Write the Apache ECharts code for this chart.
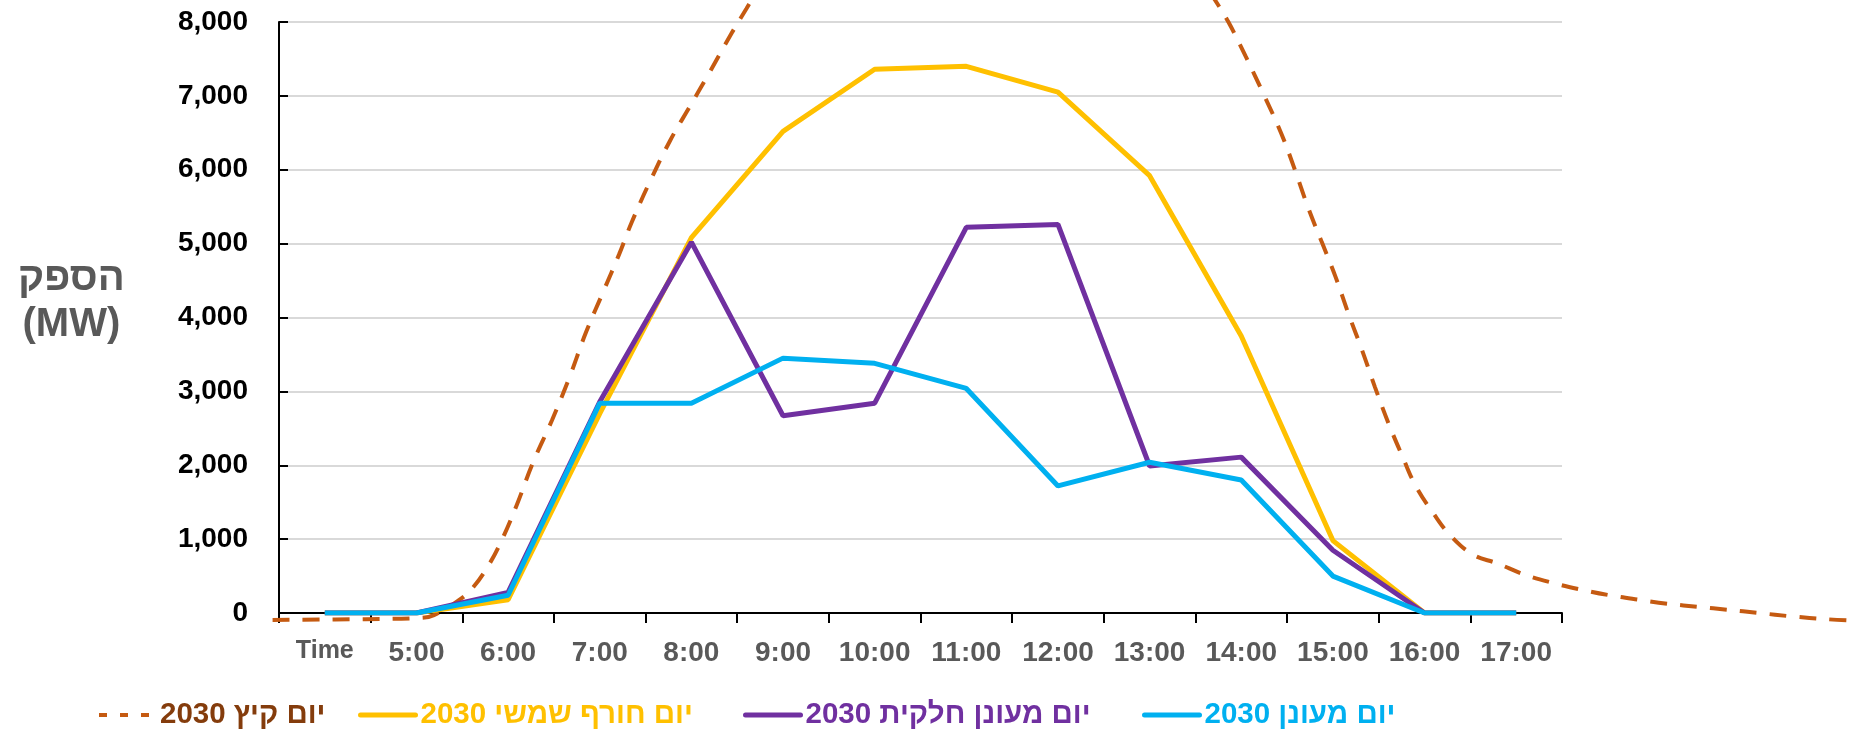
<!DOCTYPE html>
<html>
<head>
<meta charset="utf-8">
<script src="https://cdn.jsdelivr.net/npm/echarts@6/dist/echarts.min.js"></script>
<style>
  html, body { margin: 0; padding: 0; background: #ffffff; }
  #chart { width: 1855px; height: 733px; }
</style>
</head>
<body>
<div id="chart"></div>
<script>
// Hourly category labels along the bottom axis
const categories = ['Time', '5:00', '6:00', '7:00', '8:00', '9:00', '10:00', '11:00',
  '12:00', '13:00', '14:00', '15:00', '16:00', '17:00'];

// Output (MW) per hour for the three 2030 winter-day scenarios
const sunnyWinter   = [0, 0, 180, 2700, 5080, 6520, 7360, 7400, 7050, 5920, 3750, 980, 0, 0];
const partlyCloudy  = [0, 0, 280, 2860, 5020, 2670, 2840, 5220, 5260, 1990, 2110, 850, 0, 0];
const cloudy        = [0, 0, 240, 2840, 2840, 3450, 3380, 3040, 1720, 2040, 1800, 500, 0, 0];

// Summer-day 2030 profile: clock hour and output (MW)
const summerHours = [3.43, 4.44, 5.06, 5.19, 5.44, 5.6, 5.79, 5.94, 6.1, 6.27, 6.48, 6.67,
  6.85, 7.04, 7.21, 7.35, 7.56, 7.77, 7.98, 8.19, 8.44, 8.6, 9.0, 9.5, 10.0, 10.5, 11.0,
  11.5, 12.0, 12.5, 13.0, 13.5, 13.71, 13.86, 14.05, 14.25, 14.44, 14.59, 14.73, 14.88,
  15.03, 15.17, 15.32, 15.46, 15.61, 15.76, 15.9, 16.1, 16.29, 16.53, 16.79, 17.1, 17.41,
  17.72, 18.03, 18.34, 18.65, 19.0, 19.3, 19.65, 20.0, 20.4, 20.69];
const summerValues = [-94, -83, -66, -28, 155, 320, 652, 1011, 1480, 2033, 2613, 3193,
  3800, 4354, 4851, 5293, 5873, 6400, 6850, 7300, 7850, 8180, 9000, 9800, 10350, 10700, 10800,
  10700, 10400, 10000, 9400, 8700, 8304, 8000, 7530, 7006, 6481, 5983, 5486, 5017,
  4547, 4050, 3552, 3055, 2558, 2116, 1729, 1343, 1039, 790, 673, 516, 404,
  314, 238, 179, 126, 81, 45, 0, -45, -85, -104];

const seriesNames = ['יום קיץ 2030', 'יום חורף שמשי 2030', 'יום מעונן חלקית 2030', 'יום מעונן 2030'];
const seriesColors = ['#C55A11', '#FFC000', '#7030A0', '#00B0F0'];
const legendTextColors = ['#843C0C', '#FFC000', '#7030A0', '#00B0F0'];
const axisTitle = 'הספק\n(MW)';

const FONT = '"Liberation Sans", Arial, sans-serif';

// Plot area geometry (px) and the hour span it covers
const PLOT_LEFT = 279, PLOT_RIGHT = 293, PLOT_TOP = 22, PLOT_BOTTOM = 120;
const HOUR_MIN = 3.5, HOUR_MAX = 17.5;
const pxPerHour = (1855 - PLOT_LEFT - PLOT_RIGHT) / (HOUR_MAX - HOUR_MIN);
// The summer curve runs past the plot edges, so it gets its own wider grid
const WIDE_LEFT = 270;
const wideMin = HOUR_MIN - (PLOT_LEFT - WIDE_LEFT) / pxPerHour;
const wideMax = HOUR_MIN + (1855 - PLOT_LEFT) / pxPerHour;

const chart = echarts.init(document.getElementById('chart'), null, { renderer: 'canvas' });

// One legend per series so each entry sits at its own spot on the bottom row;
// the marker dot is hidden so only the line sample shows
const legendLefts = [97, 358, 743, 1142];
const legends = seriesNames.map((name, i) => ({
  left: legendLefts[i],
  top: 700,
  padding: 0,
  itemWidth: i === 0 ? 56 : 55,
  itemHeight: 14,
  selectedMode: false,
  data: [i === 0
    ? { name: name, itemStyle: { opacity: 0 }, lineStyle: { type: [8, 13], width: 4 } }
    : { name: name, itemStyle: { opacity: 0 }, lineStyle: { width: 5, cap: 'round' } }],
  textStyle: {
    color: legendTextColors[i],
    fontFamily: FONT,
    fontWeight: 'bold',
    fontSize: 29.5
  }
}));

const yAxisBase = {
  type: 'value',
  min: 0,
  max: 8000,
  interval: 1000
};

const option = {
  backgroundColor: '#ffffff',
  animation: false,
  legend: legends,
  grid: [
    { left: PLOT_LEFT, right: PLOT_RIGHT, top: PLOT_TOP, bottom: PLOT_BOTTOM, containLabel: false },
    { left: WIDE_LEFT, right: 0, top: PLOT_TOP, bottom: PLOT_BOTTOM, containLabel: false }
  ],
  graphic: [{
    type: 'text',
    left: 18,
    top: 256,
    style: {
      text: axisTitle,
      fill: '#595959',
      font: 'bold 40px ' + FONT,
      textAlign: 'center',
      lineHeight: 46,
      width: 100
    }
  }],
  xAxis: [{
    type: 'category',
    gridIndex: 0,
    data: categories,
    boundaryGap: true,
    axisLine: { show: true, lineStyle: { color: '#000000', width: 2 } },
    axisTick: { show: true, inside: false, length: 10, alignWithLabel: false,
      lineStyle: { color: '#000000', width: 2 } },
    axisLabel: {
      margin: 26,
      color: '#595959',
      fontFamily: FONT,
      fontWeight: 'bold',
      fontSize: 28,
      interval: 0,
      formatter: (v, i) => (i === 0 ? '{t|' + v + '}' : v),
      rich: { t: { fontSize: 25, fontWeight: 'bold', fontFamily: FONT, color: '#595959' } }
    },
    splitLine: { show: false }
  }, {
    type: 'value',
    gridIndex: 1,
    min: wideMin,
    max: wideMax,
    show: false
  }],
  yAxis: [Object.assign({}, yAxisBase, {
    gridIndex: 0,
    axisLine: { show: true, lineStyle: { color: '#000000', width: 2 } },
    axisTick: { show: true, inside: true, length: 9, lineStyle: { color: '#000000', width: 2 } },
    axisLabel: {
      margin: 31,
      color: '#000000',
      fontFamily: FONT,
      fontWeight: 'bold',
      fontSize: 28
    },
    splitLine: { show: true, lineStyle: { color: '#D9D9D9', width: 2 } }
  }), Object.assign({}, yAxisBase, {
    gridIndex: 1,
    show: false,
    splitLine: { show: false }
  })],
  series: [{
    name: seriesNames[0],
    type: 'line',
    xAxisIndex: 1,
    yAxisIndex: 1,
    data: summerHours.map((h, i) => [h, summerValues[i]]),
    smooth: 0.4,
    symbol: 'none',
    clip: false,
    z: 1,
    lineStyle: { color: seriesColors[0], width: 4, type: [17, 13] },
    itemStyle: { color: seriesColors[0] }
  }, {
    name: seriesNames[1],
    type: 'line',
    data: sunnyWinter,
    symbol: 'none',
    z: 2,
    lineStyle: { color: seriesColors[1], width: 5 },
    itemStyle: { color: seriesColors[1] }
  }, {
    name: seriesNames[2],
    type: 'line',
    data: partlyCloudy,
    symbol: 'none',
    z: 3,
    lineStyle: { color: seriesColors[2], width: 5 },
    itemStyle: { color: seriesColors[2] }
  }, {
    name: seriesNames[3],
    type: 'line',
    data: cloudy,
    symbol: 'none',
    z: 4,
    lineStyle: { color: seriesColors[3], width: 5 },
    itemStyle: { color: seriesColors[3] }
  }]
};

chart.setOption(option);
</script>
</body>
</html>
